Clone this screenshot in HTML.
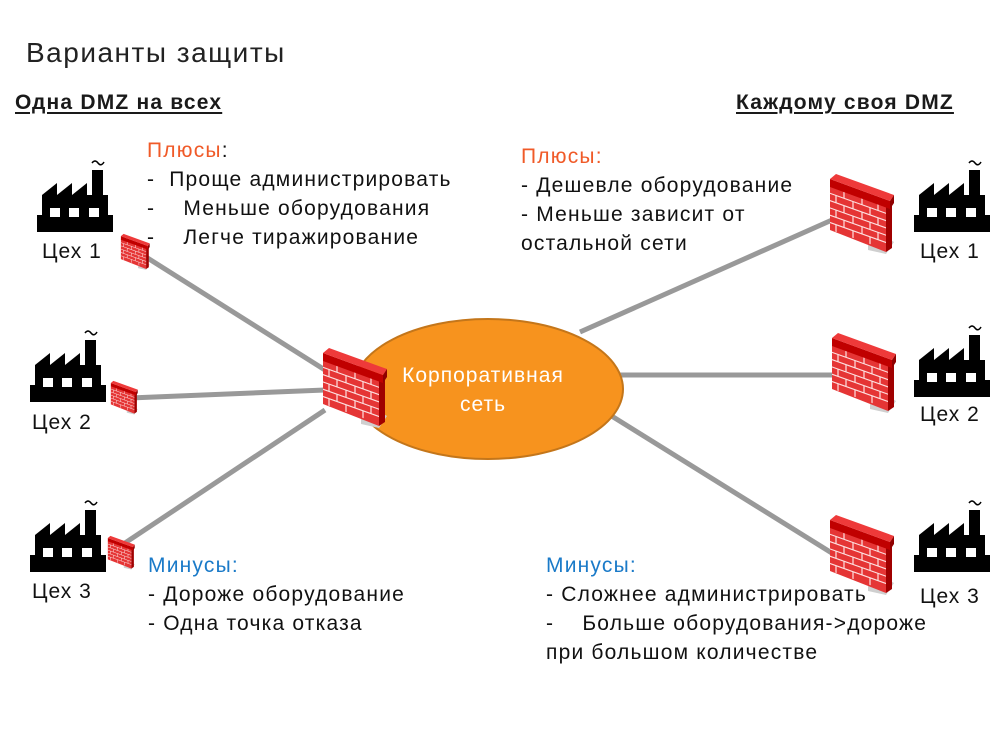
<!DOCTYPE html>
<html><head><meta charset="utf-8"><style>
body{margin:0;width:997px;height:731px;background:#fff;position:relative;overflow:hidden;font-family:"Liberation Sans",sans-serif;}
.t{position:absolute;white-space:pre;color:#111;font-size:21px;letter-spacing:1.2px;line-height:29px;}
.h{position:absolute;white-space:pre;font-weight:bold;font-size:21px;letter-spacing:1.2px;text-decoration:underline;text-decoration-thickness:2px;text-underline-offset:3px;color:#1a1a1a;}
.r{color:#f05a28}.b{color:#1a7ac8}
.lbl{position:absolute;font-size:21px;letter-spacing:1px;color:#111;}
svg{position:absolute;left:0;top:0}
</style></head><body>
<svg width="997" height="731" viewBox="0 0 997 731">
<defs>
<g id="fac">
<path d="M5,60 L5,40 L20,28 L20,40 L35,28 L35,40 L50,28 L50,40 L55,40 L55,15 L66,15 L66,40 L71,40 L71,60 Z" fill="#000"/>
<rect x="0" y="60" width="76" height="17" fill="#000"/>
<rect x="13" y="53" width="10" height="9" fill="#fff"/>
<rect x="32" y="53" width="10" height="9" fill="#fff"/>
<rect x="52" y="53" width="10" height="9" fill="#fff"/>
<path d="M55,8 q3,-4 6,0 t6,-1" fill="none" stroke="#000" stroke-width="1.5"/>
</g>
<g id="fw">
<polygon points="40,55 66,70 58,82 40,78" fill="#cfcfcf"/>
<polygon points="2,14 58,34 58,80 2,58" fill="#e53535"/>
<polygon points="58,34 64,31 64,76 58,80" fill="#a00000"/>
<g transform="skewY(19.65)" stroke="#fde0e0" stroke-width="1.2">
<line x1="2" y1="20.6" x2="58" y2="20.6"/><line x1="2" y1="27.9" x2="58" y2="27.9"/>
<line x1="2" y1="35.2" x2="58" y2="35.2"/><line x1="2" y1="42.5" x2="58" y2="42.5"/>
<line x1="2" y1="49.8" x2="58" y2="49.8"/>
<line x1="16" y1="13.3" x2="16" y2="20.6"/><line x1="34" y1="13.3" x2="34" y2="20.6"/><line x1="50" y1="13.3" x2="50" y2="20.6"/>
<line x1="8" y1="20.6" x2="8" y2="27.9"/><line x1="25" y1="20.6" x2="25" y2="27.9"/><line x1="42" y1="20.6" x2="42" y2="27.9"/>
<line x1="16" y1="27.9" x2="16" y2="35.2"/><line x1="34" y1="27.9" x2="34" y2="35.2"/><line x1="50" y1="27.9" x2="50" y2="35.2"/>
<line x1="8" y1="35.2" x2="8" y2="42.5"/><line x1="25" y1="35.2" x2="25" y2="42.5"/><line x1="42" y1="35.2" x2="42" y2="42.5"/>
<line x1="16" y1="42.5" x2="16" y2="49.8"/><line x1="34" y1="42.5" x2="34" y2="49.8"/><line x1="50" y1="42.5" x2="50" y2="49.8"/>
<line x1="8" y1="49.8" x2="8" y2="57"/><line x1="25" y1="49.8" x2="25" y2="57"/><line x1="42" y1="49.8" x2="42" y2="57"/>
</g>
<polygon points="2,7 62,29 62,37 2,15" fill="#c00000"/>
<polygon points="2,7 8,2 66,23 62,29" fill="#ee3a3a"/>
<polygon points="62,29 66,23 66,31 62,37" fill="#900000"/>
</g>
</defs>
<g stroke="#999" stroke-width="5" stroke-linecap="butt">
<line x1="138" y1="252" x2="325" y2="370"/>
<line x1="130" y1="398" x2="325" y2="390"/>
<line x1="125" y1="543" x2="325" y2="410"/>
<line x1="580" y1="332" x2="832" y2="220"/>
<line x1="620" y1="375" x2="832" y2="375"/>
<line x1="610" y1="415" x2="835" y2="555"/>
</g>
<ellipse cx="488" cy="389" rx="135" ry="70" fill="#f7931e" stroke="#c4761a" stroke-width="2"/>
<text x="483" y="382" font-family="Liberation Sans,sans-serif" font-size="21" letter-spacing="1" fill="#fff" text-anchor="middle">Корпоративная</text>
<text x="483" y="411" font-family="Liberation Sans,sans-serif" font-size="21" letter-spacing="1" fill="#fff" text-anchor="middle">сеть</text>
<use href="#fac" x="37" y="155"/>
<use href="#fac" x="30" y="325"/>
<use href="#fac" x="30" y="495"/>
<use href="#fac" x="914" y="155"/>
<use href="#fac" x="914" y="320"/>
<use href="#fac" x="914" y="495"/>
<use href="#fw" transform="translate(120,233) scale(0.45)"/>
<use href="#fw" transform="translate(110,380) scale(0.42)"/>
<use href="#fw" transform="translate(107,535) scale(0.42)"/>
<use href="#fw" transform="translate(321,346)"/>
<use href="#fw" transform="translate(828,172)"/>
<use href="#fw" transform="translate(830,331)"/>
<use href="#fw" transform="translate(828,513)"/>
</svg>
<div class="t" style="left:26px;top:35px;font-size:28px;letter-spacing:1.5px;line-height:36px;color:#222">Варианты защиты</div>
<div class="h" style="left:15px;top:91px">Одна DMZ на всех</div>
<div class="h" style="left:736px;top:91px">Каждому своя DMZ</div>
<div class="t" style="left:147px;top:136px"><span class="r">Плюсы</span>:
-  Проще администрировать
-    Меньше оборудования
-    Легче тиражирование</div>
<div class="t" style="left:521px;top:142px"><span class="r">Плюсы:</span>
- Дешевле оборудование
- Меньше зависит от
остальной сети</div>
<div class="t" style="left:148px;top:551px"><span class="b">Минусы:</span>
- Дороже оборудование
- Одна точка отказа</div>
<div class="t" style="left:546px;top:551px"><span class="b">Минусы:</span>
- Сложнее администрировать
-    Больше оборудования-&gt;дороже
при большом количестве</div>
<div class="lbl" style="left:42px;top:240px">Цех 1</div>
<div class="lbl" style="left:32px;top:411px">Цех 2</div>
<div class="lbl" style="left:32px;top:580px">Цех 3</div>
<div class="lbl" style="left:920px;top:240px">Цех 1</div>
<div class="lbl" style="left:920px;top:403px">Цех 2</div>
<div class="lbl" style="left:920px;top:585px">Цех 3</div>
</body></html>
